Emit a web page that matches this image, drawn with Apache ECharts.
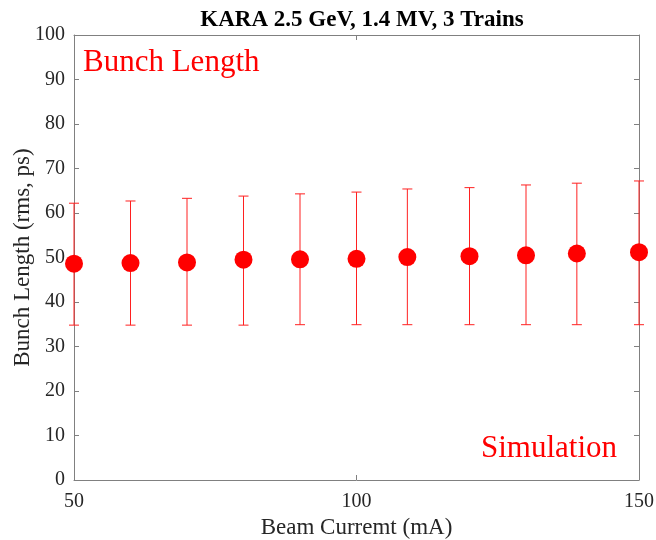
<!DOCTYPE html>
<html>
<head>
<meta charset="utf-8">
<script src="https://cdn.jsdelivr.net/npm/echarts@6/dist/echarts.min.js"></script>
<style>html,body{margin:0;padding:0;background:#fff}#c{width:656px;height:540px}</style>
</head>
<body>
<div id="c"></div>
<script>
// Data
var current = [50, 60, 70, 80, 90, 100, 109, 120, 130, 139, 150];
var bunchLength = [48.6, 48.75, 48.9, 49.5, 49.6, 49.7, 50.1, 50.3, 50.5, 50.9, 51.2];
var errUpper = [62.2, 62.7, 63.3, 63.8, 64.3, 64.7, 65.4, 65.7, 66.3, 66.7, 67.2];
var errLower = [34.8, 34.8, 34.8, 34.8, 34.9, 34.9, 34.9, 34.9, 34.9, 34.9, 34.9];
var xTicks = [50, 100, 150];
var yTicks = [0, 10, 20, 30, 40, 50, 60, 70, 80, 90, 100];

var FONT = 'Liberation Serif';
var AX = '#808080';
var LBL = '#262626';

var chart = echarts.init(document.getElementById('c'), null, {renderer: 'canvas'});
var errData = current.map(function (x, i) { return [x, errLower[i], errUpper[i]]; });
var ptData = current.map(function (x, i) { return [x, bunchLength[i]]; });

var grid = {left: 74, right: 17, top: 35, bottom: 60, containLabel: false, outerBoundsMode: 'none'};
var common = {
  axisLine: {show: true, onZero: false, lineStyle: {color: AX, width: 1}},
  axisTick: {show: true, inside: true, length: 5, lineStyle: {color: AX}},
  splitLine: {show: false}
};

chart.setOption({
  animation: false,
  backgroundColor: '#fff',
  title: {
    text: 'KARA 2.5 GeV, 1.4 MV, 3 Trains',
    left: 357, top: 4, textAlign: 'center',
    textStyle: {fontFamily: FONT, fontWeight: 'bold', fontSize: 23, color: '#000'}
  },
  grid: grid,
  xAxis: [
    Object.assign({
      type: 'value', position: 'bottom', min: 50, max: 150, interval: 50,
      name: 'Beam Curremt (mA)', nameLocation: 'middle', nameGap: 36, nameMoveOverlap: false,
      nameTextStyle: {fontFamily: FONT, fontSize: 23, color: LBL},
      axisLabel: {fontFamily: FONT, fontSize: 20, color: LBL, margin: 12}
    }, common),
    Object.assign({
      type: 'value', position: 'top', min: 50, max: 150, interval: 50,
      axisLabel: {show: false}
    }, common)
  ],
  yAxis: [
    Object.assign({
      type: 'value', position: 'left', min: 0, max: 100, interval: 10,
      name: 'Bunch Length (rms, ps)', nameLocation: 'middle', nameGap: 40, nameMoveOverlap: false,
      nameTextStyle: {fontFamily: FONT, fontSize: 23, color: LBL},
      axisLabel: {fontFamily: FONT, fontSize: 20, color: LBL, margin: 9}
    }, common),
    Object.assign({
      type: 'value', position: 'right', min: 0, max: 100, interval: 10,
      axisLabel: {show: false}
    }, common)
  ],
  graphic: [
    {type: 'text', left: 83, top: 47, style: {text: 'Bunch Length', font: '31px "Liberation Serif"', fill: '#ff0000'}},
    {type: 'text', left: 481, top: 433, style: {text: 'Simulation', font: '31px "Liberation Serif"', fill: '#ff0000'}}
  ],
  series: [
    {
      type: 'custom',
      clip: false,
      data: errData,
      renderItem: function (params, api) {
        var x = api.value(0);
        var lo = api.coord([x, api.value(1)]);
        var hi = api.coord([x, api.value(2)]);
        var w = 5;
        var st = {stroke: '#ff2020', lineWidth: 1};
        return {
          type: 'group',
          children: [
            {type: 'line', shape: {x1: lo[0], y1: lo[1], x2: hi[0], y2: hi[1]}, style: st},
            {type: 'line', shape: {x1: lo[0] - w, y1: lo[1], x2: lo[0] + w, y2: lo[1]}, style: st},
            {type: 'line', shape: {x1: hi[0] - w, y1: hi[1], x2: hi[0] + w, y2: hi[1]}, style: st}
          ]
        };
      },
      z: 2
    },
    {
      type: 'scatter',
      clip: false,
      data: ptData,
      symbol: 'circle',
      symbolSize: 18,
      itemStyle: {color: '#ff0000', opacity: 1},
      z: 3
    }
  ]
});
</script>
</body>
</html>
